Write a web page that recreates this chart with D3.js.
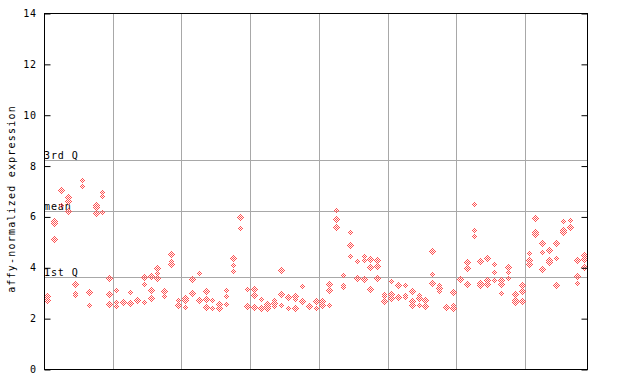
<!DOCTYPE html>
<html><head><meta charset="utf-8">
<script src="https://cdn.jsdelivr.net/npm/d3@7"></script>
<style>body{margin:0;background:#fff}svg{display:block}text{font-family:"DejaVu Sans Mono",monospace;font-size:10px;fill:#000}</style>
</head><body><svg id="c" width="640" height="384"></svg>
<script>
// sample values (replicates per sample, left to right)
const samples = [
 [2.87,2.69,2.73],[5.83,5.76,5.12],[6.99,7.03,6.46],[6.77,6.62,6.22],[3.33,2.98,2.91],
 [7.44,7.20],[3.02,2.52],[6.48,6.39,6.43,6.13],[6.96,6.81,6.18],[3.57,2.94,2.56],
 [3.10,2.65,2.46],[2.61,2.65],[3.02,2.61,2.65],[2.69,2.73],[3.62,3.33,2.62],
 [3.65,3.10,2.78],[3.99,3.77,3.57],[3.07,2.87],[4.53,4.26,4.14],[2.72,2.52],
 [2.80,2.72,2.43],[3.53,2.98],[3.77,2.68,2.72],[3.06,2.75,2.43],[2.71,2.39],
 [2.55,2.39],[3.10,2.86,2.55],[4.36,4.08,3.85],[5.97,5.54],[3.14,2.49,2.53],
 [3.14,2.90,2.43],[2.75,2.39],[2.55,2.47,2.39],[2.71,2.59,2.63,2.47],[3.89,2.94,2.51],
 [2.78,2.82,2.39],[2.86,2.75,2.39],[3.26,2.65,2.69],[2.43,2.47],[2.65,2.69,2.39],
 [2.67,2.46,2.50],[3.33,3.10,2.51],[6.25,5.89,5.58],[3.69,3.29,3.22],[5.38,4.87,4.44],
 [4.24,3.52,3.56],[4.45,4.29,3.53],[4.32,4.00,3.14],[4.28,4.04,3.57],[2.94,2.86,2.67],
 [3.45,2.94,2.78],[3.29,2.82],[3.29,2.90,2.82],[3.06,2.67,2.51],[2.90,2.78,2.51],
 [2.71,2.47],[4.63,3.73,3.37],[3.29,3.18,3.06],[2.43,2.47],[3.02,2.51,2.39],
 [3.51,3.55],[4.20,3.97,3.33],[6.48,5.46,5.22],[4.24,3.37,3.41,3.29],[4.36,3.49,3.33],
 [4.12,3.81,3.49],[3.49,3.33,2.98],[4.00,3.81,3.57],[2.94,2.71,2.63],[3.29,3.06,2.67],
 [4.56,4.28,4.12],[5.93,5.38,5.30],[4.95,4.60,3.93],[4.68,4.28,4.16,4.20],[4.95,4.36,3.29],
 [5.82,5.46,5.38],[5.86,5.58,5.62],[4.28,3.65,3.37],[4.48,4.32,4.00]
];
const yTicks = [0,2,4,6,8,10,12,14];
const refLines = [{label:"3rd Q", v:8.23},{label:"mean", v:6.22},{label:"1st Q", v:3.63}];
const groupBreaks = [9.5,19.5,29.5,39.5,49.5,59.5,69.5];
const yTitle = "affy-normalized expression";

const L=44, R=587, T=13, B=369;
const svg = d3.select("#c");
const x = d3.scaleLinear().domain([-0.5, 78.5]).range([L, R]);
const y = d3.scaleLinear().domain([0, 14]).range([B, T]);

const defs = svg.append("defs");
const pat = defs.append("pattern").attr("id","chk").attr("patternUnits","userSpaceOnUse")
  .attr("width",2).attr("height",2);
pat.append("rect").attr("x",0).attr("y",0).attr("width",1).attr("height",1).attr("fill","#ff5050");
pat.append("rect").attr("x",1).attr("y",1).attr("width",1).attr("height",1).attr("fill","#ff5050");

// grid
svg.append("g").selectAll("line").data(groupBreaks).join("line")
  .attr("x1",d=>Math.round(x(d))+0.5).attr("x2",d=>Math.round(x(d))+0.5)
  .attr("y1",T).attr("y2",B).attr("stroke","#a8a8a8").attr("stroke-width",1);
svg.append("g").selectAll("line").data(refLines).join("line")
  .attr("x1",L).attr("x2",R).attr("y1",d=>Math.round(y(d.v))+0.5).attr("y2",d=>Math.round(y(d.v))+0.5)
  .attr("stroke","#a8a8a8").attr("stroke-width",1);
svg.append("g").selectAll("text").data(refLines).join("text")
  .attr("x",L).attr("y",d=>Math.round(y(d.v))-1).attr("letter-spacing","0.9")
  .text(d=>d.label);

// points
const pts = [];
samples.forEach((vals,i)=>vals.forEach(v=>pts.push({i,v})));
svg.append("g").selectAll("path").data(pts).join("path")
  .attr("d",d=>{const cx=Math.round(x(d.i))+0.5, cy=Math.round(y(d.v))+0.5;
    return `M${cx},${cy-3.6}L${cx+3.6},${cy}L${cx},${cy+3.6}L${cx-3.6},${cy}Z`;})
  .attr("fill","url(#chk)").attr("shape-rendering","crispEdges");

// frame
svg.append("rect").attr("x",L+0.5).attr("y",T+0.5).attr("width",R-L).attr("height",B-T)
  .attr("fill","none").attr("stroke","#000").attr("stroke-width",1);

// left axis
const ax = svg.append("g").attr("transform",`translate(${L+0.5},0)`)
  .call(d3.axisRight(y).tickValues(yTicks).tickSize(6).tickFormat(""));
ax.select(".domain").remove();
ax.selectAll("line").attr("stroke","#000").attr("transform","translate(0,0.5)");
svg.append("g").selectAll("text").data(yTicks).join("text")
  .attr("x",37).attr("y",d=>y(d)+4).attr("text-anchor","end").attr("letter-spacing","0.9")
  .text(d=>d);
// right ticks
const ax2 = svg.append("g").attr("transform",`translate(${R+0.5},0)`)
  .call(d3.axisLeft(y).tickValues(yTicks).tickSize(6).tickFormat(""));
ax2.select(".domain").remove();
ax2.selectAll("line").attr("stroke","#000").attr("transform","translate(0,0.5)");

svg.append("text").attr("transform",`translate(15,${(T+B)/2+8}) rotate(-90)`)
  .attr("text-anchor","middle").attr("letter-spacing","1.2").text(yTitle);
</script></body></html>
